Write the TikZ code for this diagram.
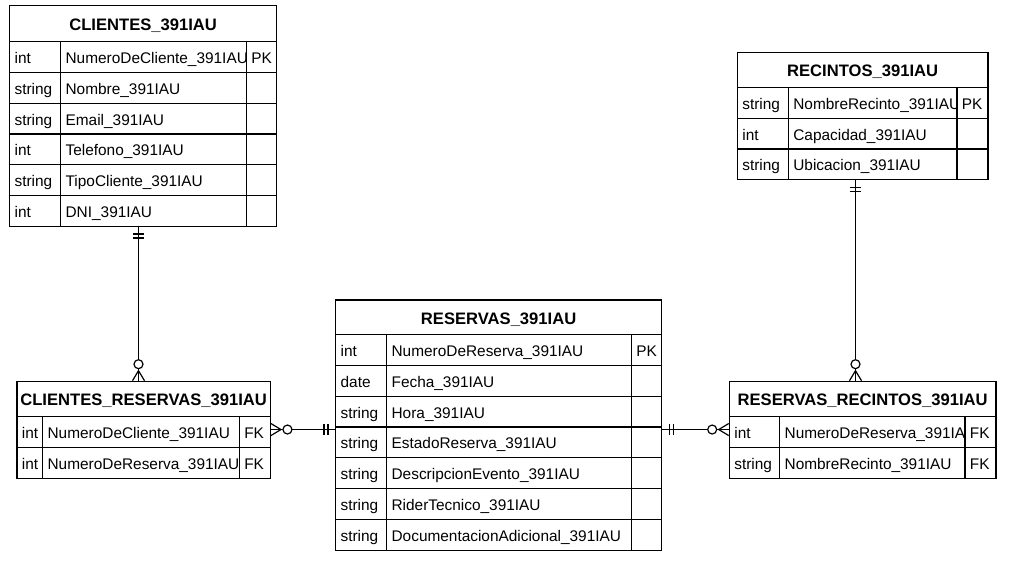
\documentclass[tikz,border=0pt]{standalone}
\usepackage{fontspec}
\setmainfont{Liberation Sans}
\tikzset{
 cellbox/.style={draw, fill=white, anchor=north west, inner xsep=5pt, inner ysep=0pt, minimum height=30.8pt, align=left, text height=13pt, text depth=0pt, font=\fontsize{15.4}{18}\selectfont, line width=1.25pt},
 titlebox/.style={draw, fill=white, anchor=north west, inner sep=0pt, align=center, text height=14pt, text depth=0pt, font=\fontsize{16.6}{19}\selectfont\bfseries, line width=1.25pt},
 conn/.style={line width=1.2pt},
}
\def\rowh{30.8}
% #1 name, #2 x, #3 y, #4 w1, #5 w2, #6 w3, #7 title height, #8 title, #9 rows
\newcommand{\ertable}[9]{%
  \pgfmathsetmacro{\tw}{#4+#5+#6}%
  \node[titlebox, minimum width=\tw pt, minimum height=#7pt] (#1-title) at (#2pt,-#3pt) {#8};
  \foreach \ty/\nm/\ky [count=\i] in {#9} {
    \pgfmathsetmacro{\yy}{#3+#7+(\i-1)*\rowh}
    \pgfmathsetmacro{\xa}{#2+#4}
    \pgfmathsetmacro{\xb}{#2+#4+#5}
    \pgfmathsetmacro{\ta}{#4-10}
    \pgfmathsetmacro{\tb}{#5-10}
    \pgfmathsetmacro{\tc}{#6-10}
    \node[cellbox, minimum width=#4pt, text width=\ta pt] (#1-\i-t) at (#2pt,-\yy pt) {\ty};
    \node[cellbox, minimum width=#5pt, text width=\tb pt] (#1-\i-n) at (\xa pt,-\yy pt) {\nm};
    \node[cellbox, minimum width=#6pt, text width=\tc pt, inner xsep=4pt] (#1-\i-k) at (\xb pt,-\yy pt) {\ky};
  }
}
\newcommand{\mandone}[2]{\begin{scope}[shift={(#1)}, rotate=#2, line width=1.2pt]
  \draw (7pt,-5.5pt) -- (7pt,5.5pt);
  \draw (11pt,-5.5pt) -- (11pt,5.5pt);
\end{scope}}
\newcommand{\zeromany}[2]{\begin{scope}[shift={(#1)}, rotate=#2, line width=1.2pt]
  \draw (0pt,-6pt) -- (10pt,0pt) -- (0pt,6pt);
  \draw[fill=white] (16.5pt,0pt) circle (4.5pt);
\end{scope}}
\begin{document}
\begin{tikzpicture}[x=1pt,y=1pt]
\useasboundingbox (0,0) rectangle (1018,-562);

\ertable{cli}{9}{5}{51}{185.7}{30.3}{36}{CLIENTES\_391IAU}{int/NumeroDeCliente\_391IAU/PK, string/Nombre\_391IAU/{}, string/Email\_391IAU/{}, int/Telefono\_391IAU/{}, string/TipoCliente\_391IAU/{}, int/DNI\_391IAU/{}}

\ertable{rec}{736.7}{52}{51}{168.6}{31}{34.7}{RECINTOS\_391IAU}{string/NombreRecinto\_391IAU/PK, int/Capacidad\_391IAU/{}, string/Ubicacion\_391IAU/{}}

\ertable{res}{335}{299.3}{51}{244.7}{30.3}{34.7}{RESERVAS\_391IAU}{int/NumeroDeReserva\_391IAU/PK, date/Fecha\_391IAU/{}, string/Hora\_391IAU/{}, string/EstadoReserva\_391IAU/{}, string/DescripcionEvento\_391IAU/{}, string/RiderTecnico\_391IAU/{}, string/DocumentacionAdicional\_391IAU/{}}

\ertable{cr}{16.3}{380.7}{25.7}{196.7}{31}{35.3}{CLIENTES\_RESERVAS\_391IAU}{int/NumeroDeCliente\_391IAU/FK, int/NumeroDeReserva\_391IAU/FK}

\ertable{rr}{728.7}{380.7}{50.3}{185.3}{31}{35.3}{RESERVAS\_RECINTOS\_391IAU}{int/NumeroDeReserva\_391IAU/FK, string/NombreRecinto\_391IAU/FK}

% connector coordinates
\path (cli-6-t.south west) ++(129.5,0) coordinate (c1a);
\coordinate (c1b) at (c1a |- cr-title.north);
\path (cr-1-k.east) ++(0,2.5) coordinate (c2a);
\coordinate (c2b) at (c2a -| res-1-t.west);
\path (rr-1-t.west) ++(0,2.5) coordinate (c3b);
\coordinate (c3a) at (c3b -| res-1-k.east);
\path (rec-3-t.south west) ++(118.8,0) coordinate (c4a);
\coordinate (c4b) at (c4a |- rr-title.north);

\draw[conn] (c1a) -- (c1b);
\draw[conn] (c2a) -- (c2b);
\draw[conn] (c3a) -- (c3b);
\draw[conn] (c4a) -- (c4b);

\mandone{c1a}{-90}
\zeromany{c1b}{90}
\zeromany{c2a}{0}
\mandone{c2b}{180}
\mandone{c3a}{0}
\zeromany{c3b}{180}
\mandone{c4a}{-90}
\zeromany{c4b}{90}
\end{tikzpicture}
\end{document}
